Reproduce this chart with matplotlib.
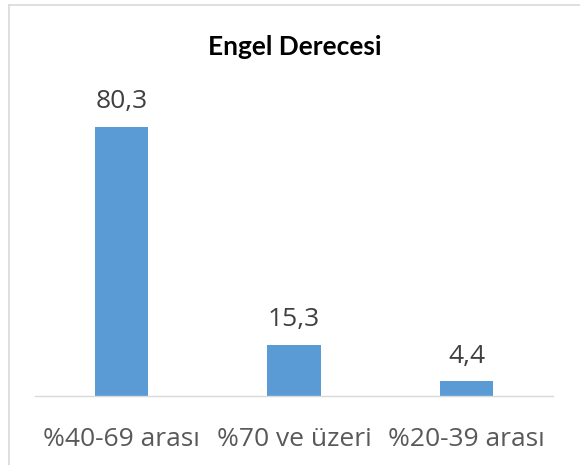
import matplotlib
matplotlib.use("Agg")
import matplotlib.pyplot as plt
from matplotlib.lines import Line2D

categories = ["%40-69 arası", "%70 ve üzeri", "%20-39 arası"]
values = [80.3, 15.3, 4.4]
labels = ["80,3", "15,3", "4,4"]
title = "Engel Derecesi"

W, H = 580, 465
fig = plt.figure(figsize=(W / 100, H / 100), dpi=100)
plt.rcParams['font.family'] = ['Open Sans', 'DejaVu Sans']

# axes in pixel coords: x 35..553, baseline y=396, top y=94.5 (ylim 0..90)
left, right, bottom, top = 35, 553, 396, 94.5
ax = fig.add_axes([left / W, 1 - bottom / H, (right - left) / W, (bottom - top) / H])
ax.set_xlim(-0.5, 2.5)
ax.set_ylim(0, 90)

x = list(range(len(categories)))
bars = ax.bar(x, values, width=0.31, color="#5B9BD5", zorder=2)
for xi, v, lab in zip(x, values, labels):
    ax.annotate(lab, (xi, v), xytext=(0, 9), textcoords="offset points",
                ha="center", va="bottom", fontsize=19, color="#404040")

for s in ["top", "right", "left"]:
    ax.spines[s].set_visible(False)
ax.spines["bottom"].set_color("#D9D9D9")
ax.spines["bottom"].set_linewidth(1.0)
ax.set_yticks([])
ax.set_xticks(x)
ax.set_xticklabels(categories, fontsize=19, color="#595959")
ax.tick_params(axis="x", length=0, pad=22)

fig.text(295 / W, 1 - 47 / H, title, ha="center", va="center",
         fontsize=19, fontweight="bold", color="black", family=["Lato", "DejaVu Sans"])

# chart border (top and left visible)
fig.add_artist(Line2D([9 / W, 1], [1 - 5 / H, 1 - 5 / H], color="#D9D9D9", lw=1.2,
                      transform=fig.transFigure))
fig.add_artist(Line2D([9 / W, 9 / W], [0, 1 - 5 / H], color="#D9D9D9", lw=1.2,
                      transform=fig.transFigure))

fig.savefig("out.png", dpi=100, facecolor="white")
